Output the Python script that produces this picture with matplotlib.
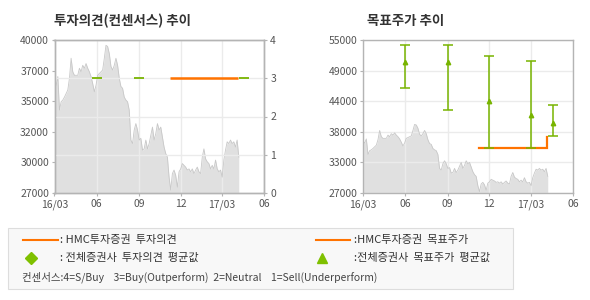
import matplotlib
matplotlib.use("Agg")
import matplotlib.pyplot as plt
from matplotlib.patches import Rectangle
from matplotlib.lines import Line2D
import numpy as np
import pandas as pd

plt.rcParams['font.family'] = ['Noto Sans CJK KR', 'DejaVu Sans']

# ---------------- data ----------------
price = [36450, 36150, 36900, 34050, 34750, 34900, 35150, 35450, 35750, 36750,
         38450, 37300, 37000, 37000, 37000, 37600, 37300, 37850, 37600, 38000,
         37600, 37300, 36900, 36300, 35600, 36150, 37000, 37150, 37300, 37450,
         38450, 39550, 39450, 38850, 37750, 37450, 37850, 38450, 37850, 36750,
         36050, 35900, 35150, 34900, 34750, 34050, 31500, 31200, 32350, 32900,
         32350, 31500, 31650, 30650, 30750, 31500, 30750, 31200, 31900, 32600,
         31500, 32050, 32900, 32350, 32600, 31750, 30900, 30350, 30050, 28350,
         27250, 28650, 28950, 28500, 27500, 28800, 29050, 29500, 29350, 29200,
         28950, 29050, 28800, 29050, 28650, 28950, 29200, 28800, 28650, 30050,
         30750, 29900, 29650, 29500, 29050, 29350, 29050, 29800, 29050, 28800,
         28950, 28350, 29800, 30650, 31350, 31200, 31500, 31200, 31350, 30900,
         31500, 30050]
price_start = '2016-03-01'
price_end = '2017-04-07'

# HMC opinion (consensus scale 1-4)
hmc_op_dates = ['2016-11-09', '2017-04-06']
hmc_op_vals = [3, 3]
# all-brokers average opinion
avg_op_dates = ['2016-06-01', '2016-09-01', '2017-04-18']
avg_op_vals = [3, 3, 3]

# HMC target price
hmc_tp_dates = ['2016-11-09', '2017-04-06', '2017-04-06']
hmc_tp_vals = [35200, 35200, 37300]
# all-brokers target price: mean, high, low
avg_tp_dates = ['2016-06-01', '2016-09-01', '2016-12-01', '2017-03-01', '2017-04-18']
avg_tp_mean = [51050, 51050, 43800, 41200, 39900]
avg_tp_high = [54100, 54100, 52100, 51150, 43150]
avg_tp_low = [46250, 42200, 35200, 35200, 37350]

left_ylabels = ['27000', '30000', '32000', '35000', '37000', '40000']
right_ylabels = ['27000', '33000', '38000', '44000', '49000', '55000']
op_ylabels = ['0', '1', '2', '3', '4']
xtick_dates = ['2016-03-01', '2016-06-01', '2016-09-01', '2016-12-01', '2017-03-01', '2017-06-01']
xtick_labels = ['16/03', '06', '09', '12', '17/03', '06']

titles = ['투자의견(컨센서스) 추이', '목표주가 추이']
legend_texts = [': HMC투자증권  투자의견', ': 전체증권사  투자의견  평균값',
                ':HMC투자증권  목표주가', ':전체증권사  목표주가  평균값']
consensus_note = '컨센서스:4=S/Buy    3=Buy(Outperform)  2=Neutral    1=Sell(Underperform)'

# ---------------- style ----------------
ORANGE = '#ff7300'
GREEN = '#78b400'
FILL = '#e0e0e0'
PLINE = '#c8c8c8'
GRID = '#ebebeb'
FRAME = '#b4b4b4'
TXT = '#555555'

W, H = 590, 300
fig = plt.figure(figsize=(W / 100, H / 100), dpi=100)

dates = pd.date_range(price_start, price_end, periods=len(price))
xt = pd.to_datetime(xtick_dates)
xlim = (xt[0], xt[-1])


def style_frame(ax):
    for s in ax.spines.values():
        s.set_color(FRAME)
        s.set_linewidth(1.0)
    ax.tick_params(colors=FRAME, labelcolor=TXT, labelsize=7.5, length=2.5, width=0.8)


def ax_rect(l, r, t, b):
    return [l / W, 1 - b / H, (r - l) / W, (b - t) / H]


# ---------------- left chart ----------------
axL = fig.add_axes(ax_rect(54.5, 264, 40, 193))
axL.fill_between(dates, price, 27000, color=FILL, lw=0)
axL.plot(dates, price, color=PLINE, lw=0.6)
axL.set_ylim(27000, 40000)
axL.set_xlim(*xlim)
axL.set_yticks(np.linspace(27000, 40000, len(left_ylabels)))
axL.set_yticklabels(left_ylabels)
axL.set_xticks(xt)
axL.set_xticklabels(xtick_labels)
axL.grid(axis='x', color=GRID, lw=1.0)
style_frame(axL)
axL.tick_params(axis='y', pad=1.5)
axL.tick_params(axis='x', pad=2)

axL2 = axL.twinx()
axL2.set_ylim(0, 4)
axL2.set_yticks(range(len(op_ylabels)))
axL2.set_yticklabels(op_ylabels)
axL2.grid(axis='y', color=GRID, lw=1.0)
axL2.plot(pd.to_datetime(avg_op_dates), avg_op_vals, ls='none', marker='_',
          markersize=6.5, mew=1.3, color=GREEN)
axL2.plot(pd.to_datetime(hmc_op_dates), hmc_op_vals, color=ORANGE, lw=1.8,
          solid_capstyle='butt')
style_frame(axL2)
axL2.tick_params(axis='y', pad=2)
axL2.set_xlim(*xlim)

fig.text(54.5 / W, 1 - 21 / H, titles[0], fontsize=9.7, fontweight='bold',
         color='#333333', va='center', ha='left')

# ---------------- right chart ----------------
axR = fig.add_axes(ax_rect(363, 573, 40, 193))
axR.fill_between(dates, price, 27000, color=FILL, lw=0)
axR.plot(dates, price, color=PLINE, lw=0.6)
axR.set_ylim(27000, 55000)
axR.set_xlim(*xlim)
axR.set_yticks(np.linspace(27000, 55000, len(right_ylabels)))
axR.set_yticklabels(right_ylabels)
axR.set_xticks(xt)
axR.set_xticklabels(xtick_labels)
axR.grid(True, color=GRID, lw=1.0)
style_frame(axR)
axR.tick_params(axis='y', pad=1.5)
axR.tick_params(axis='x', pad=2)

tp_d = pd.to_datetime(avg_tp_dates)
mean = np.array(avg_tp_mean)
yerr = [mean - np.array(avg_tp_low), np.array(avg_tp_high) - mean]
axR.errorbar(tp_d, mean, yerr=yerr, fmt='none', ecolor=GREEN, elinewidth=1.1,
             capsize=3.3, capthick=1.1, zorder=4)
axR.plot(tp_d, mean, ls='none', marker='^', markersize=3.2, color=GREEN, zorder=5)
axR.plot(pd.to_datetime(hmc_tp_dates), hmc_tp_vals, color=ORANGE, lw=1.6,
         zorder=3, solid_joinstyle='miter')

fig.text(367 / W, 1 - 21 / H, titles[1], fontsize=9.7, fontweight='bold',
         color='#333333', va='center', ha='left')

# ---------------- legend box ----------------
fig.patches.append(Rectangle((7.5 / W, 1 - 289 / H), (513 - 7.5) / W, (289 - 228) / H,
                             transform=fig.transFigure, facecolor='#f8f8f8',
                             edgecolor='#dddddd', lw=0.8))


def fx(x):
    return x / W


def fy(y):
    return 1 - y / H


fig.lines.append(Line2D([fx(23), fx(58)], [fy(240), fy(240)], transform=fig.transFigure,
                        color=ORANGE, lw=1.5))
fig.lines.append(Line2D([fx(316), fx(350)], [fy(240), fy(240)], transform=fig.transFigure,
                        color=ORANGE, lw=1.5))
fig.lines.append(Line2D([fx(31)], [fy(258)], transform=fig.transFigure, ls='none',
                        marker='D', markersize=6.5, color='#7fc000'))
fig.lines.append(Line2D([fx(322)], [fy(258)], transform=fig.transFigure, ls='none',
                        marker='^', markersize=7, color='#7fc000'))

lkw = dict(fontsize=8, color='#333333', va='center', ha='left')
fig.text(fx(60), fy(240), legend_texts[0], **lkw)
fig.text(fx(60), fy(258), legend_texts[1], **lkw)
fig.text(fx(354), fy(240), legend_texts[2], **lkw)
fig.text(fx(354), fy(258), legend_texts[3], **lkw)
fig.text(fx(22), fy(277), consensus_note, fontsize=7.5, color='#444444',
         va='center', ha='left')

fig.savefig('out.png', dpi=100)
